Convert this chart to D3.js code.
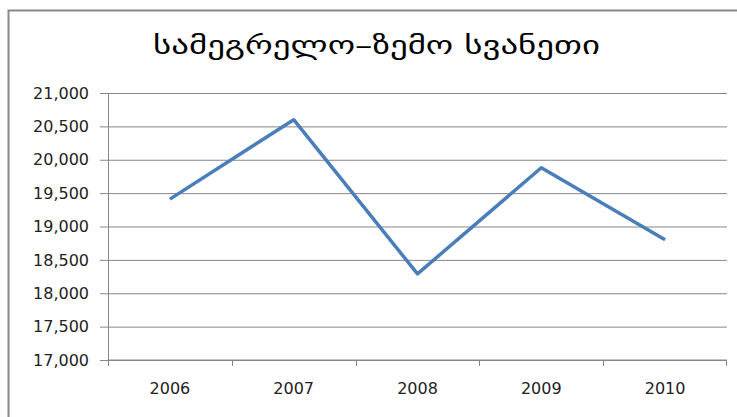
<!DOCTYPE html>
<html>
<head>
<meta charset="utf-8">
<script src="https://cdn.jsdelivr.net/npm/d3@7"></script>
<style>
  body { margin: 0; background: #fff; }
  svg { display: block; }
</style>
</head>
<body>
<div id="chart"></div>
<script>
const title = "სამეგრელო–ზემო სვანეთი";
const years = ["2006", "2007", "2008", "2009", "2010"];
const values = [19410, 20600, 18290, 19880, 18800];
const yTicks = [17000, 17500, 18000, 18500, 19000, 19500, 20000, 20500, 21000];

const W = 737, H = 417;
const margin = { top: 93, right: 10, bottom: 57, left: 108 };
const width = W - margin.left - margin.right;
const height = H - margin.top - margin.bottom;
const labelFont = "'DejaVu Sans', sans-serif";

const root = d3.select("#chart").append("svg")
  .attr("width", W)
  .attr("height", H);

// outer chart frame (runs off the right and bottom edge)
root.append("rect")
  .attr("x", 8.5)
  .attr("y", 10.5)
  .attr("width", W + 20)
  .attr("height", H + 20)
  .attr("fill", "#fff")
  .attr("stroke", "#888")
  .attr("stroke-width", 2);

root.append("text")
  .attr("x", 153)
  .attr("y", 54)
  .attr("textLength", 447)
  .attr("lengthAdjust", "spacingAndGlyphs")
  .style("font-family", "'DejaVu Sans', sans-serif")
  .style("font-size", "25px")
  .style("fill", "#000")
  .text(title);

const svg = root.append("g")
  .attr("transform", `translate(${margin.left}, ${margin.top})`);

const x = d3.scaleBand()
  .domain(years)
  .range([0, width]);

const y = d3.scaleLinear()
  .domain([17000, 21000])
  .range([height, 0]);

// gridlines with outside tick
const yAxis = svg.append("g")
  .call(d3.axisLeft(y)
    .tickValues(yTicks)
    .tickSize(-width)
    .tickSizeOuter(0)
    .tickPadding(19)
    .tickFormat(d3.format(",")));
yAxis.select(".domain").remove();
yAxis.selectAll(".tick line")
  .attr("x1", -8)
  .attr("stroke", "#868686");
yAxis.selectAll("text")
  .style("font-family", labelFont)
  .style("font-size", "16px")
  .style("fill", "#222");

svg.append("line")
  .attr("x1", 0.5).attr("x2", 0.5)
  .attr("y1", 0).attr("y2", height)
  .attr("stroke", "#868686");

// x axis with ticks at category boundaries
const xAxis = svg.append("g")
  .attr("transform", `translate(0,${height})`);
xAxis.append("line")
  .attr("x1", 0).attr("x2", width)
  .attr("stroke", "#868686");
xAxis.selectAll(".bound")
  .data(years.concat(["end"]))
  .join("line")
  .attr("class", "bound")
  .attr("x1", (d, i) => i < years.length ? Math.round(x(d)) + 0.5 : width - 0.5)
  .attr("x2", (d, i) => i < years.length ? Math.round(x(d)) + 0.5 : width - 0.5)
  .attr("y1", 0).attr("y2", 6)
  .attr("stroke", "#868686");
xAxis.selectAll(".lbl")
  .data(years)
  .join("text")
  .attr("class", "lbl")
  .attr("x", d => x(d) + x.bandwidth() / 2)
  .attr("y", 34)
  .attr("text-anchor", "middle")
  .style("font-family", labelFont)
  .style("font-size", "16px")
  .style("fill", "#222")
  .text(d => d);

const line = d3.line()
  .x((d, i) => x(years[i]) + x.bandwidth() / 2)
  .y(d => y(d));

svg.append("path")
  .datum(values)
  .attr("fill", "none")
  .attr("stroke", "#4a7ebb")
  .attr("stroke-width", 3.5)
  .attr("stroke-linejoin", "round")
  .attr("d", line);
</script>
</body>
</html>
